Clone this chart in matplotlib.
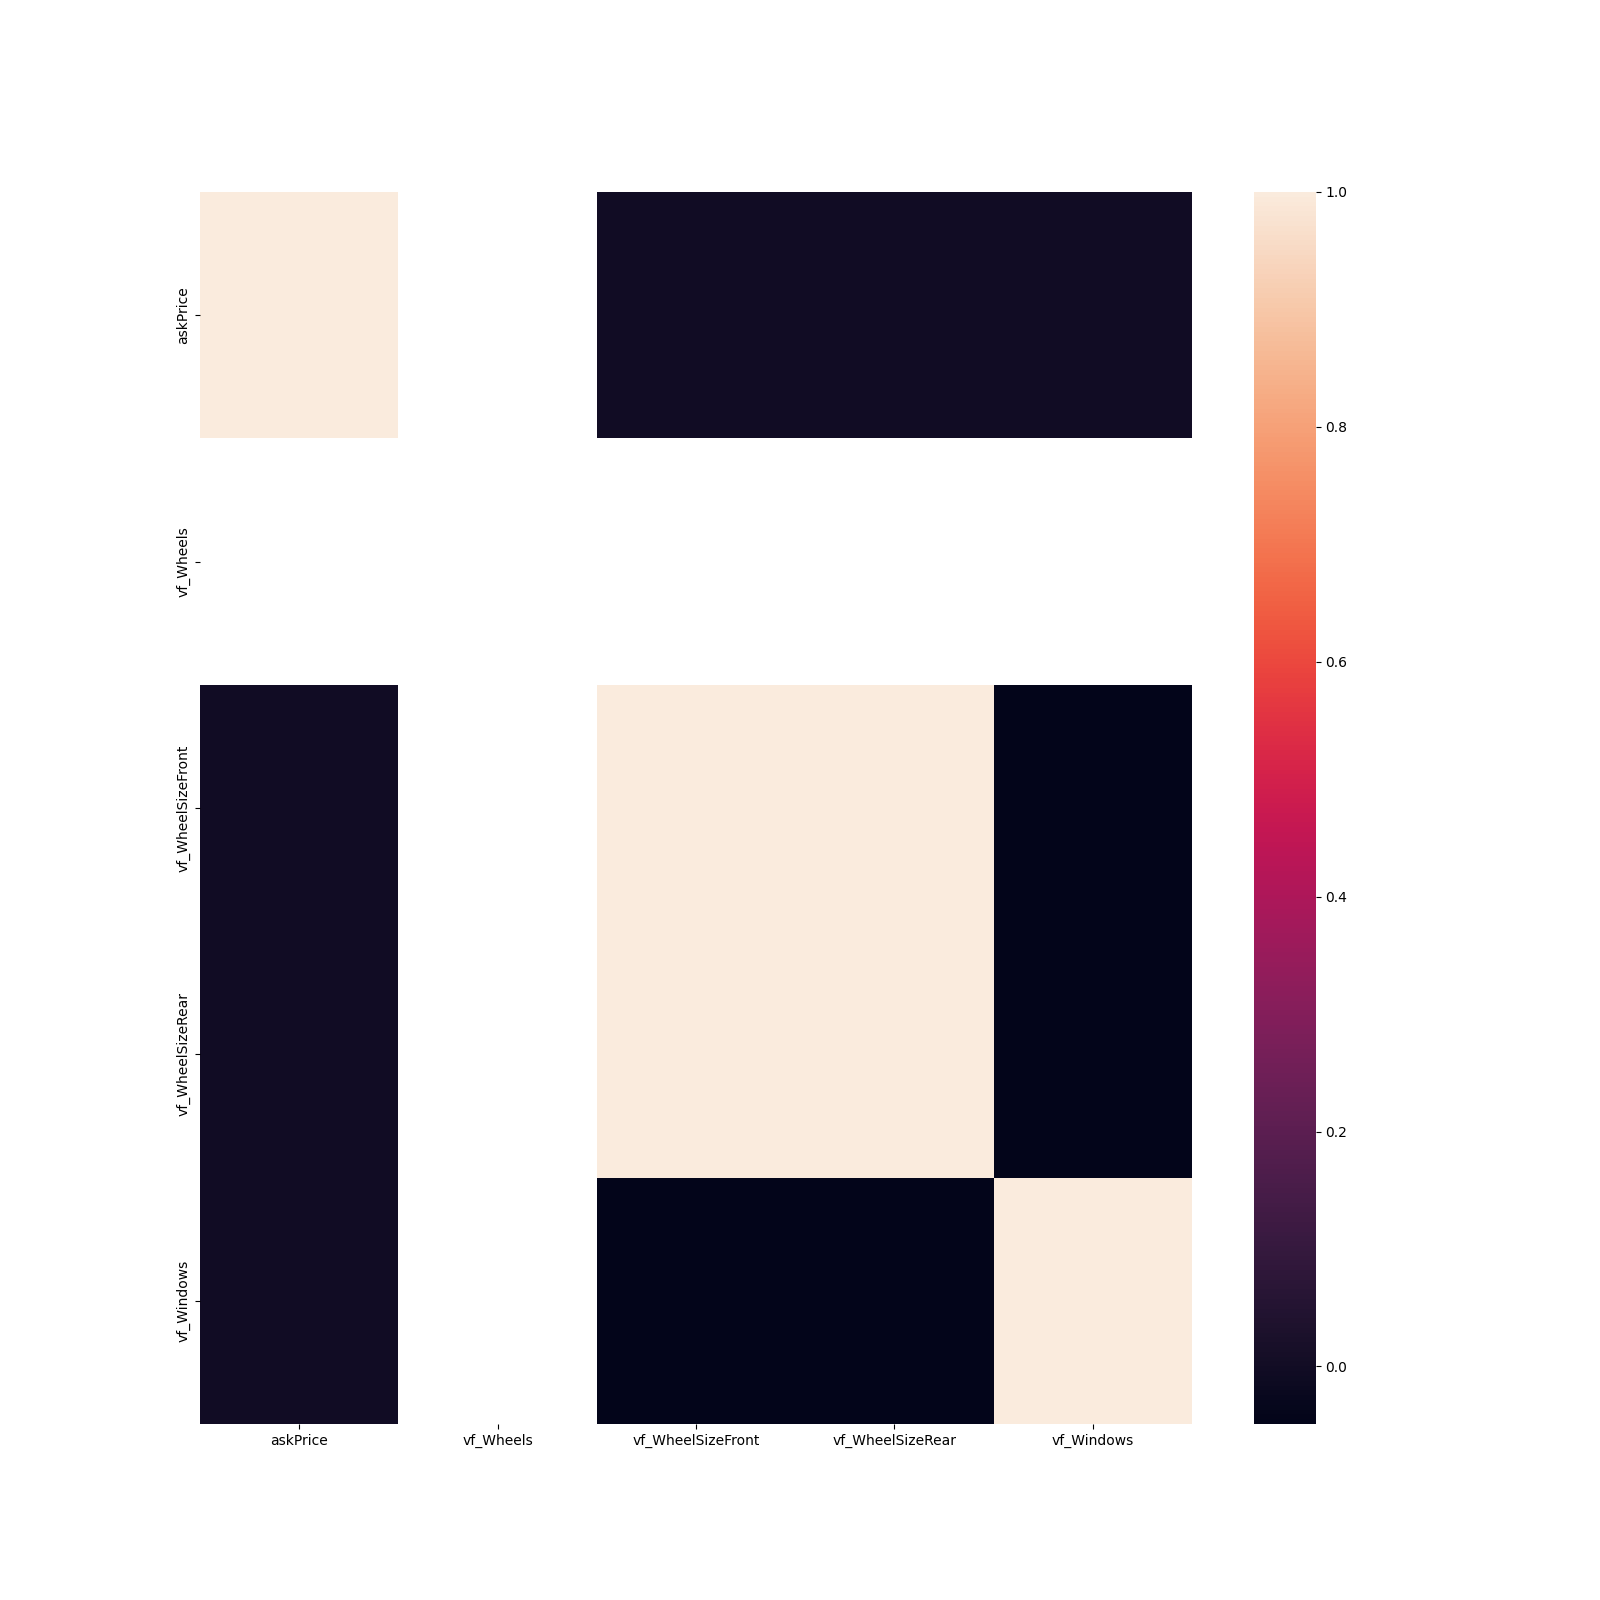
import numpy as np
import pandas as pd
import matplotlib
matplotlib.use("Agg")
import matplotlib.pyplot as plt
import seaborn as sns

labels = ["askPrice", "vf_Wheels", "vf_WheelSizeFront", "vf_WheelSizeRear", "vf_Windows"]
nan = np.nan
row_askPrice = [1.0, nan, -0.003, -0.003, -0.003]
row_wheels = [nan, nan, nan, nan, nan]
row_front = [-0.003, nan, 1.0, 1.0, -0.049]
row_rear = [-0.003, nan, 1.0, 1.0, -0.049]
row_windows = [-0.003, nan, -0.049, -0.049, 1.0]

corr = pd.DataFrame([row_askPrice, row_wheels, row_front, row_rear, row_windows],
                    index=labels, columns=labels)

fig, ax = plt.subplots(figsize=(16, 16), dpi=100)
sns.heatmap(corr, ax=ax)
fig.savefig("out.png", dpi=100)
